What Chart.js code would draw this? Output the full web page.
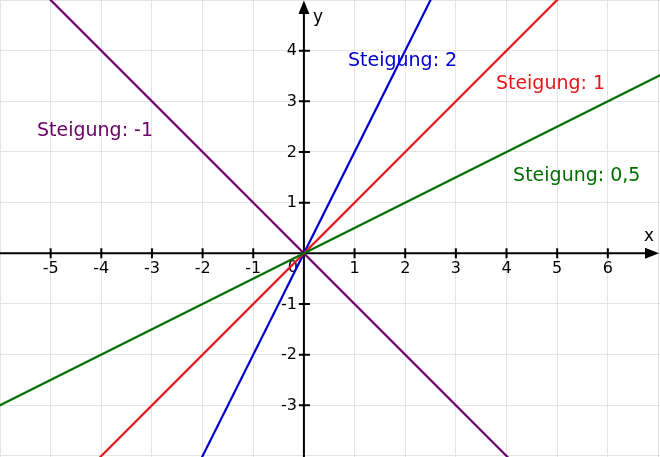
<!DOCTYPE html>
<html>
<head>
<meta charset="utf-8">
<script src="https://cdn.jsdelivr.net/npm/chart.js@4/dist/chart.umd.min.js"></script>
<style>
  html, body { margin: 0; padding: 0; background: #ffffff; }
  #wrap { width: 660px; height: 457px; }
</style>
</head>
<body>
<div id="wrap"><canvas id="c" width="660" height="457"></canvas></div>
<script>
// ---- data ----
const xTicks = [-5, -4, -3, -2, -1, 1, 2, 3, 4, 5, 6];
const yTicks = [-3, -2, -1, 1, 2, 3, 4];
const seriesNames = ['Steigung: 2', 'Steigung: 1', 'Steigung: -1', 'Steigung: 0,5'];
const lineSlope2 = [{x: -2.5, y: -5}, {x: 3, y: 6}];
const lineSlope1 = [{x: -5, y: -5}, {x: 6, y: 6}];
const lineSlopeMinus1 = [{x: -6, y: 6}, {x: 5, y: -5}];
const lineSlopeHalf = [{x: -7, y: -3.5}, {x: 8, y: 4}];
// label anchors (data coordinates, left / baseline)
const labelX = [0.87, 3.79, -5.27, 4.13];
const labelY = [3.70, 3.25, 2.31, 1.43];
const colors = ['#0000cc', '#e8141c', '#6b006b', '#006f00'];

const FONT = '"DejaVu Sans", Verdana, sans-serif';

const axesPlugin = {
  id: 'axesPlugin',
  beforeDatasetsDraw(chart) {
    const {ctx, chartArea, scales: {x, y}} = chart;
    const ox = x.getPixelForValue(0);
    const oy = y.getPixelForValue(0);
    ctx.save();
    ctx.strokeStyle = '#000';
    ctx.fillStyle = '#000';
    ctx.lineWidth = 2;
    // axis lines
    ctx.beginPath();
    ctx.moveTo(chartArea.left, oy);
    ctx.lineTo(chartArea.right - 8, oy);
    ctx.moveTo(ox, chartArea.bottom);
    ctx.lineTo(ox, chartArea.top + 8);
    ctx.stroke();
    // arrows
    ctx.beginPath();
    ctx.moveTo(chartArea.right - 1, oy);
    ctx.lineTo(chartArea.right - 15, oy - 5.5);
    ctx.lineTo(chartArea.right - 15, oy + 5.5);
    ctx.closePath();
    ctx.fill();
    ctx.beginPath();
    ctx.moveTo(ox, chartArea.top + 0.5);
    ctx.lineTo(ox - 5.5, chartArea.top + 14);
    ctx.lineTo(ox + 5.5, chartArea.top + 14);
    ctx.closePath();
    ctx.fill();
    // tick marks
    ctx.beginPath();
    xTicks.forEach(v => {
      const px = x.getPixelForValue(v);
      ctx.moveTo(px, oy - 5);
      ctx.lineTo(px, oy + 5);
    });
    yTicks.forEach(v => {
      const py = y.getPixelForValue(v);
      ctx.moveTo(ox - 5, py);
      ctx.lineTo(ox + 6, py);
    });
    ctx.stroke();
    // tick labels
    ctx.font = '16px ' + FONT;
    ctx.textAlign = 'center';
    ctx.textBaseline = 'middle';
    xTicks.forEach(v => {
      ctx.fillText(String(v), x.getPixelForValue(v), oy + 16);
    });
    ctx.textAlign = 'right';
    yTicks.forEach(v => {
      ctx.fillText(String(v), ox - 7, y.getPixelForValue(v) + 0.5);
    });
    ctx.textAlign = 'center';
    ctx.fillText('0', ox - 11, oy + 15);
    // axis names
    ctx.font = '17px ' + FONT;
    ctx.fillText('x', chartArea.right - 11, oy - 17);
    ctx.fillText('y', ox + 14, chartArea.top + 18);
    ctx.restore();
  },
  afterDatasetsDraw(chart) {
    const {ctx, scales: {x, y}} = chart;
    ctx.save();
    ctx.font = '19px ' + FONT;
    ctx.textAlign = 'left';
    ctx.textBaseline = 'alphabetic';
    seriesNames.forEach((t, i) => {
      ctx.fillStyle = colors[i];
      ctx.fillText(t, x.getPixelForValue(labelX[i]), y.getPixelForValue(labelY[i]));
    });
    ctx.restore();
  }
};

const mk = (label, data, color) => ({
  label, data, borderColor: color, backgroundColor: color,
  borderWidth: 2.2, showLine: true, pointRadius: 0, fill: false, tension: 0
});

new Chart(document.getElementById('c'), {
  type: 'scatter',
  data: {
    datasets: [
      mk(seriesNames[3], lineSlopeHalf, colors[3]),
      mk(seriesNames[1], lineSlope1, colors[1]),
      mk(seriesNames[0], lineSlope2, colors[0]),
      mk(seriesNames[2], lineSlopeMinus1, colors[2])
    ]
  },
  options: {
    responsive: false,
    animation: false,
    events: [],
    layout: { padding: 0 },
    plugins: { legend: { display: false }, tooltip: { enabled: false }, title: { display: false } },
    scales: {
      x: {
        type: 'linear', min: -6, max: 7.03,
        ticks: { display: false, stepSize: 1, includeBounds: false },
        grid: { color: '#e4e4e4', lineWidth: 1, drawTicks: false },
        border: { display: false }
      },
      y: {
        type: 'linear', min: -4.02, max: 5.0,
        ticks: { display: false, stepSize: 1, includeBounds: false },
        grid: { color: '#e4e4e4', lineWidth: 1, drawTicks: false },
        border: { display: false }
      }
    }
  },
  plugins: [axesPlugin]
});
</script>
</body>
</html>
